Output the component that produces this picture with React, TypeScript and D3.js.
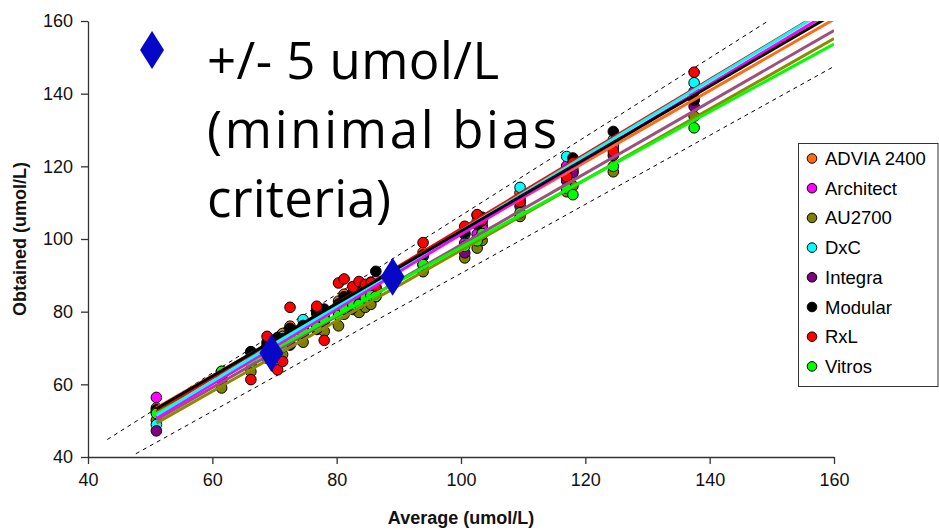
import { useEffect, useRef } from 'react'
import * as d3 from 'd3'

// sample averages (x) shared by every analyser
const average = [51, 61.5, 66.2, 68.8, 70.5, 71.3, 72.5, 74.6, 76.8, 78, 80.3, 81.2, 82.6, 83.6, 84.6, 85.5, 86.3, 93.9, 100.6, 102.6, 103.4, 109.5, 117, 118, 124.5, 137.5]

const advia = [53.5, 63.2, 68.9, 70.2, 72.1, 74.0, 76.0, 75.8, 79.5, 79.2, 82.9, 84.8, 83.9, 86.2, 85.7, 88.1, 87.0, 96.3, 101.2, 104.8, 103.9, 112.7, 117.2, 118.6, 125.2, 138.5]
const architect = [56.4, 62.3, 65.8, 70.1, 71.5, 70.8, 73.9, 74.2, 78.1, 77.6, 81.7, 80.9, 84.2, 83.5, 86.1, 85.7, 86.5, 95.6, 98.9, 101.3, 103.0, 110.1, 120.1, 119.2, 125.8, 140.6]
const au2700 = [50.1, 59.0, 63.5, 67.2, 69.0, 68.2, 70.8, 71.6, 75.1, 74.6, 76.1, 79.3, 80.6, 79.8, 81.2, 82.0, 84.1, 91.0, 94.8, 97.5, 99.6, 106.2, 113.0, 114.6, 118.5, 133.8]
const dxc = [48.9, 62.0, 67.5, 70.6, 71.0, 73.2, 74.5, 77.8, 80.5, 79.0, 82.1, 83.0, 84.6, 85.5, 85.9, 87.5, 88.6, 95.2, 101.5, 106.5, 105.0, 114.2, 122.7, 120.5, 127.3, 143.0]
const integra = [47.2, 61.2, 65.8, 68.3, 69.0, 70.9, 71.0, 74.0, 75.2, 77.4, 79.6, 80.4, 81.0, 82.9, 83.7, 84.6, 85.3, 92.8, 96.2, 99.8, 101.2, 109.0, 116.0, 118.2, 123.0, 136.5]
const modular = [53.0, 63.5, 69.0, 71.5, 72.9, 72.6, 75.4, 76.2, 79.8, 80.7, 82.0, 84.1, 85.3, 86.9, 86.1, 88.0, 91.1, 95.5, 101.8, 104.0, 106.0, 111.2, 119.0, 122.3, 129.6, 138.2]
const rxl = [52.4, 62.8, 61.3, 73.2, 64.0, 66.3, 81.2, 75.2, 81.5, 72.1, 87.9, 89.0, 86.9, 88.3, 87.5, 88.0, 86.4, 99.0, 103.5, 106.7, 105.2, 110.2, 117.2, 121.0, 124.1, 145.9]
const vitros = [52.0, 63.6, 66.0, 68.9, 70.5, 70.2, 72.6, 74.5, 75.8, 77.9, 79.0, 80.8, 81.9, 82.0, 83.8, 84.5, 84.2, 93.0, 98.0, 99.5, 101.5, 107.2, 114.0, 112.2, 120.0, 130.6]

const analysers = ['ADVIA 2400', 'Architect', 'AU2700', 'DxC', 'Integra', 'Modular', 'RxL', 'Vitros']
const analyserValues = [advia, architect, au2700, dxc, integra, modular, rxl, vitros]
const markerColors = ['#FF6A13', '#FF00FF', '#808000', '#00FFFF', '#800080', '#000000', '#FF0000', '#00FF00']
const lineColors = ['#FF6A13', '#FF00FF', '#8B8B00', '#00FFFF', '#9E4F80', '#000000', '#FF0000', '#00FF00']

// linear trend lines (slope, intercept), drawn from x = 51 to 160
const trendSlope = [0.981, 1.03, 0.971, 1.035, 0.983, 0.997, 1.027, 0.933]
const trendIntercept = [3.5, -1.7, -0.2, -1.3, 0.1, 2.45, 0.1, 4.4]
const trendRange = [51, 160]
const trendOrder = [6, 0, 2, 4, 7, 1, 3, 5]

// dashed limit lines: [x, y] end points
const upperLimit = [[43.1, 44.8], [149.4, 160]]
const lowerLimit = [[47.7, 40.9], [160, 147.5]]

// blue diamonds (criteria markers)
const criteriaPoints = [[69.5, 68.6], [89, 89.6]]
const keyDiamond = [50.3, 152]

const xTicks = [40, 60, 80, 100, 120, 140, 160]
const yTicks = [40, 60, 80, 100, 120, 140, 160]
const noteLines = ['+/- 5 umol/L', '(minimal bias', 'criteria)']
const noteWidths = [292, 350, 184]

export default function App() {
  const svgRef = useRef(null)
  const width = 939
  const height = 530

  useEffect(() => {
    const svg = d3.select(svgRef.current)
    svg.selectAll('*').remove()

    const margin = { top: 21, right: 105, bottom: 73, left: 88 }
    const x = d3.scaleLinear().domain([40, 160]).range([margin.left, width - margin.right])
    const y = d3.scaleLinear().domain([40, 160]).range([height - margin.bottom, margin.top])
    const font = 'Liberation Sans, Arial, sans-serif'

    svg.append('defs').append('clipPath').attr('id', 'plot')
      .append('rect')
      .attr('x', x(40)).attr('y', y(160))
      .attr('width', x(160) - x(40)).attr('height', y(40) - y(160))

    // axes
    const xAxis = svg.append('g')
      .attr('transform', `translate(0,${y(40)})`)
      .call(d3.axisBottom(x).tickValues(xTicks).tickSize(7).tickSizeOuter(0).tickPadding(9))
    const yAxis = svg.append('g')
      .attr('transform', `translate(${x(40)},0)`)
      .call(d3.axisLeft(y).tickValues(yTicks).tickSize(7).tickSizeOuter(0).tickPadding(8))
    for (const a of [xAxis, yAxis]) {
      a.selectAll('path, line').attr('stroke', '#333').attr('stroke-width', 1.3)
      a.selectAll('text').attr('fill', '#111').attr('font-size', 18).attr('font-family', font)
    }

    svg.append('text')
      .attr('x', (x(40) + x(160)) / 2).attr('y', 524)
      .attr('text-anchor', 'middle')
      .attr('font-family', font).attr('font-weight', 'bold').attr('font-size', 18)
      .attr('fill', '#111')
      .text('Average (umol/L)')
    svg.append('text')
      .attr('transform', `translate(26,${(y(40) + y(160)) / 2}) rotate(-90)`)
      .attr('text-anchor', 'middle')
      .attr('font-family', font).attr('font-weight', 'bold').attr('font-size', 18)
      .attr('fill', '#111')
      .text('Obtained (umol/L)')

    const plot = svg.append('g').attr('clip-path', 'url(#plot)')

    // dashed limits
    const line = d3.line().x(d => x(d[0])).y(d => y(d[1]))
    for (const l of [upperLimit, lowerLimit]) {
      plot.append('path')
        .attr('d', line(l))
        .attr('fill', 'none').attr('stroke', '#000')
        .attr('stroke-width', 1).attr('stroke-dasharray', '4,4')
    }

    // scatter points
    analyserValues.forEach((vals, i) => {
      plot.append('g').selectAll('circle')
        .data(vals.map((v, j) => [average[j], v]))
        .enter()
        .append('circle')
        .attr('cx', d => x(d[0]))
        .attr('cy', d => y(d[1]))
        .attr('r', 5.3)
        .attr('fill', markerColors[i])
        .attr('stroke', '#000').attr('stroke-width', 1)
    })

    // trend lines
    trendOrder.forEach(i => {
      plot.append('path')
        .attr('d', line(trendRange.map(v => [v, trendIntercept[i] + trendSlope[i] * v])))
        .attr('fill', 'none')
        .attr('stroke', lineColors[i])
        .attr('stroke-width', 3)
    })

    // criteria diamonds
    const diamond = 'M0,-19 L12,0 L0,19 L-12,0 Z'
    svg.append('g').selectAll('path')
      .data([...criteriaPoints, keyDiamond])
      .enter()
      .append('path')
      .attr('d', diamond)
      .attr('transform', d => `translate(${x(d[0])},${y(d[1])})`)
      .attr('fill', '#0707C7')

    // note text
    const note = svg.append('g')
      .attr('font-family', 'Open Sans, Lato, sans-serif')
      .attr('font-size', 51)
      .attr('fill', '#000')
    noteLines.forEach((t, i) => {
      note.append('text')
        .attr('x', 207).attr('y', 79 + i * 69)
        .attr('textLength', noteWidths[i])
        .attr('lengthAdjust', 'spacing')
        .text(t)
    })

    // legend
    const legend = svg.append('g')
    legend.append('rect')
      .attr('x', 798.5).attr('y', 143.5)
      .attr('width', 139.5).attr('height', 243)
      .attr('fill', '#fff').attr('stroke', '#333').attr('stroke-width', 1)
    analysers.forEach((name, i) => {
      const cy = 158.5 + i * 29.7
      legend.append('circle')
        .attr('cx', 812).attr('cy', cy).attr('r', 4.8)
        .attr('fill', markerColors[i]).attr('stroke', '#000').attr('stroke-width', 1)
      legend.append('text')
        .attr('x', 825).attr('y', cy + 6.5)
        .attr('font-family', font).attr('font-size', 18.5).attr('fill', '#000')
        .text(name)
    })
  }, [])

  return (
    <svg
      ref={svgRef}
      width={width}
      height={height}
      style={{ position: 'absolute', left: 0, top: 0, background: '#fff' }}
    />
  )
}
